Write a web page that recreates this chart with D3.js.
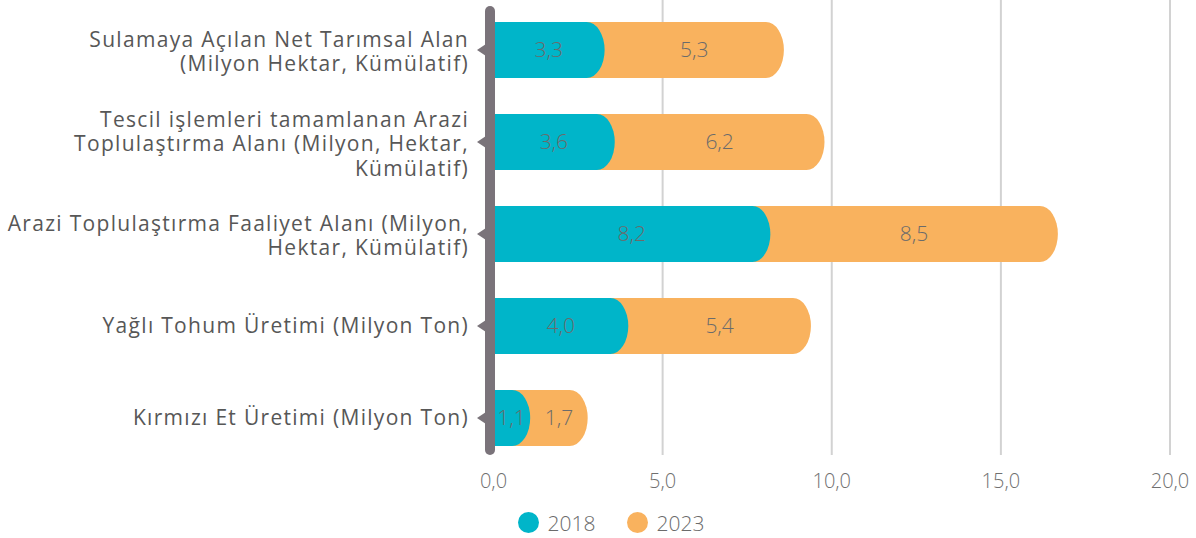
<!DOCTYPE html>
<html>
<head>
<meta charset="utf-8">
<script src="https://cdn.jsdelivr.net/npm/d3@7"></script>
<style>
  html, body { margin: 0; padding: 0; background: #fff; }
  svg { display: block; }
</style>
</head>
<body>
<div class="chart_wrapper"></div>
<script>
// categories, each one split into the lines shown on the left
const categories = [
    ['Sulamaya Açılan Net Tarımsal Alan', '(Milyon Hektar, Kümülatif)'],
    ['Tescil işlemleri tamamlanan Arazi', 'Toplulaştırma Alanı (Milyon, Hektar,', 'Kümülatif)'],
    ['Arazi Toplulaştırma Faaliyet Alanı (Milyon,', 'Hektar, Kümülatif)'],
    ['Yağlı Tohum Üretimi (Milyon Ton)'],
    ['Kırmızı Et Üretimi (Milyon Ton)']
]
const series = ['2018', '2023']
const values2018 = [3.3, 3.6, 8.2, 4.0, 1.1]
const values2023 = [5.3, 6.2, 8.5, 5.4, 1.7]
const xTicks = [0, 5, 10, 15, 20]

const width = 1196
const height = 538
const color = d3.scaleOrdinal().domain(series).range(['#00b5c9', '#f9b25e'])
const fmt = (v) => v.toFixed(1).replace('.', ',')

const svg_d3 = d3.select('.chart_wrapper')
    .append('svg')
    .attr('width', width)
    .attr('height', height)

const x = d3.scaleLinear().domain([0, 20]).range([493, 1169.5])
const y = d3.scaleBand()
    .domain(d3.range(categories.length))
    .range([4, 464])
    .paddingInner(0.39)
    .paddingOuter(0.195)
const bw = y.bandwidth()
const gridBottom = 455

// grid + tick labels
const xAxis = d3.axisBottom(x)
    .tickValues(xTicks)
    .tickFormat(fmt)
    .tickSize(-gridBottom)
    .tickPadding(19)
const axis_g = svg_d3.append('g')
    .attr('transform', `translate(0,${gridBottom})`)
    .call(xAxis)
axis_g.select('.domain').remove()
axis_g.selectAll('.tick line')
    .attr('stroke', '#d2d2d2')
    .attr('stroke-width', 2)
    .attr('opacity', d => d === 0 ? 0 : 1)
axis_g.selectAll('.tick text')
    .attr('fill', '#707070')
    .attr('font-family', '"Open Sans", sans-serif')
    .attr('font-weight', 300)
    .attr('font-size', '20px')

// bar with a flat left side and an elliptic right end
const rx = 18
const barPath = (x0, x1, y0) => {
    const e = Math.max(x1 - rx, x0)
    return `M${x0},${y0}H${e}A${rx},${bw / 2} 0 0 1 ${e},${y0 + bw}H${x0}Z`
}

const rows = categories.map((c, i) => ({ i, lines: c, a: values2018[i], b: values2023[i] }))

const bars_g = svg_d3.append('g')
bars_g.selectAll('path.b2023')
    .data(rows)
    .join('path')
    .attr('class', 'b2023')
    .attr('fill', color('2023'))
    .attr('d', d => barPath(x(0), x(d.a + d.b), y(d.i)))
bars_g.selectAll('path.b2018')
    .data(rows)
    .join('path')
    .attr('class', 'b2018')
    .attr('fill', color('2018'))
    .attr('d', d => barPath(x(0), x(d.a), y(d.i)))

const valueLabel = (sel, cx, txt) => sel
    .attr('x', cx)
    .attr('y', d => y(d.i) + bw / 2 + 7)
    .attr('text-anchor', 'middle')
    .attr('fill', '#6b6b6b')
    .attr('font-family', '"Open Sans", sans-serif')
    .attr('font-weight', 300)
    .attr('font-size', '21px')
    .text(txt)

bars_g.selectAll('text.l2018')
    .data(rows)
    .join('text')
    .attr('class', 'l2018')
    .call(valueLabel, d => (x(0) + x(d.a)) / 2, d => fmt(d.a))
bars_g.selectAll('text.l2023')
    .data(rows)
    .join('text')
    .attr('class', 'l2023')
    .call(valueLabel, d => (x(d.a) + x(d.a + d.b)) / 2, d => fmt(d.b))

// the thick category axis with its little arrow ticks
const axisColor = '#7a737a'
svg_d3.append('line')
    .attr('x1', 490).attr('x2', 490)
    .attr('y1', 11).attr('y2', gridBottom - 5)
    .attr('stroke', axisColor)
    .attr('stroke-width', 10)
    .attr('stroke-linecap', 'round')
svg_d3.append('g')
    .selectAll('path')
    .data(rows)
    .join('path')
    .attr('fill', axisColor)
    .attr('d', d => {
        const cy = y(d.i) + bw / 2
        return `M477,${cy}L486,${cy - 6}L486,${cy + 6}Z`
    })

// category labels (wide letter spacing to mimic the original geometric font)
const lineH = 24.5
const labels = svg_d3.append('g')
    .selectAll('text')
    .data(rows)
    .join('text')
    .attr('text-anchor', 'end')
    .attr('fill', '#575757')
    .attr('font-family', '"Open Sans", sans-serif')
    .attr('font-size', '21px')
    .attr('letter-spacing', '1.3px')
labels.selectAll('tspan')
    .data(d => d.lines.map((t, k) => ({ t, k, n: d.lines.length, i: d.i })))
    .join('tspan')
    .attr('x', 469)
    .attr('y', d => y(d.i) + bw / 2 + 7 + (d.k - (d.n - 1) / 2) * lineH + (d.n > 1 ? 2 : 0))
    .text(d => d.t)

// legend
const legend = svg_d3.append('g')
    .selectAll('g')
    .data(series)
    .join('g')
    .attr('transform', (d, i) => `translate(${528.5 + i * 109},522.5)`)
legend.append('circle')
    .attr('r', 10.5)
    .attr('fill', d => color(d))
legend.append('text')
    .attr('x', 19)
    .attr('y', 8)
    .attr('fill', '#6b6b6b')
    .attr('font-family', '"Open Sans", sans-serif')
    .attr('font-weight', 300)
    .attr('font-size', '21px')
    .text(d => d)
</script>
</body>
</html>
